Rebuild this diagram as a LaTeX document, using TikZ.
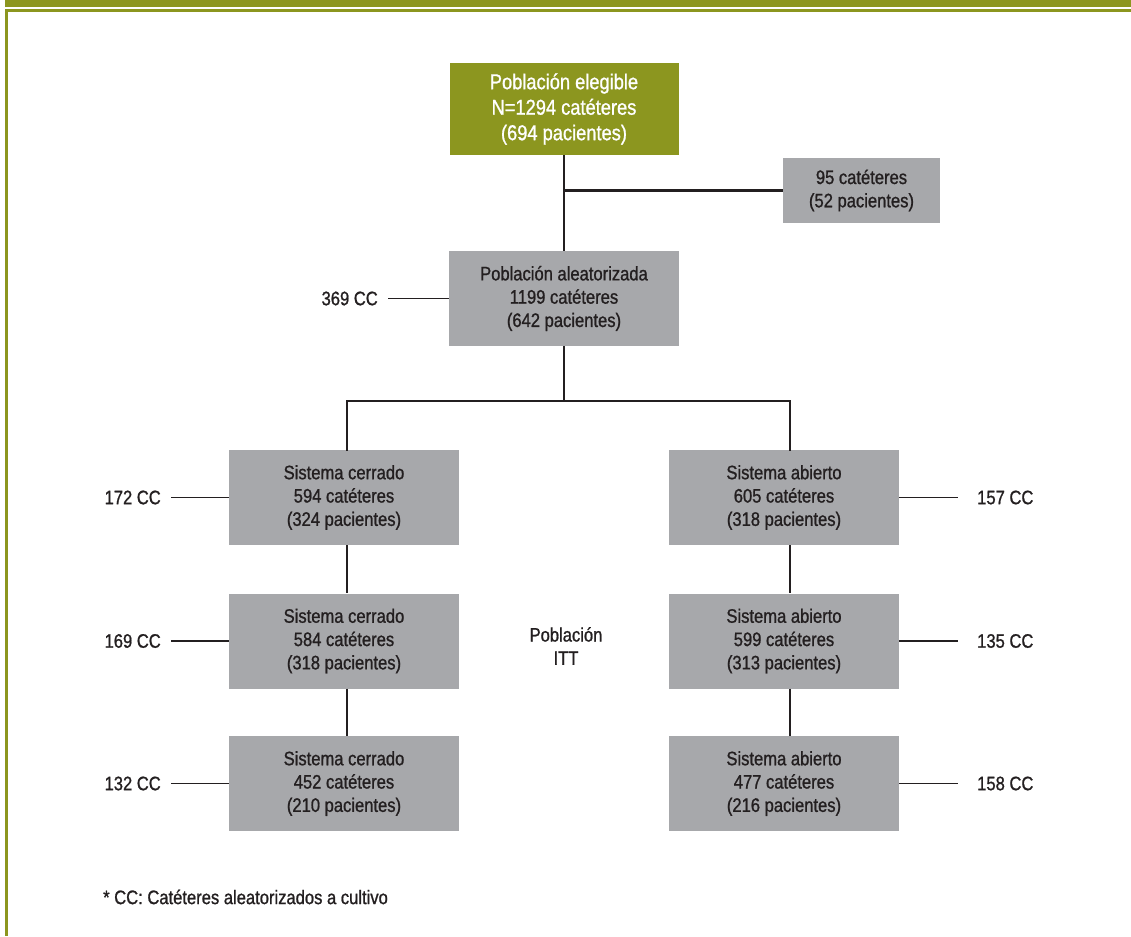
\documentclass[tikz,border=0pt]{standalone}
\usepackage{fontspec}
\setmainfont{Liberation Sans}[FakeStretch=0.85, FakeBold=1]
\definecolor{olive}{HTML}{8C961F}
\definecolor{boxgray}{HTML}{A7A8AB}
\definecolor{txt}{HTML}{231F20}
\begin{document}
\begin{tikzpicture}[x=1pt,y=-1pt,
  gbox/.style={fill=boxgray, text=txt, align=center, inner sep=0pt,
    minimum width=230pt, minimum height=95pt,
    font=\fontsize{19.5}{23.3}\selectfont},
  topbox/.style={gbox, fill=olive, text=white, minimum width=229pt, minimum height=92pt,
    font=\fontsize{21.5}{25.5}\selectfont},
  cclabel/.style={text=txt, inner sep=0pt, font=\fontsize{19.5}{23.3}\selectfont},
  tree/.style={draw=txt, line width=2.7pt},
  ccline/.style={draw=txt, line width=1.8pt}]
\useasboundingbox (0,0) rectangle (1131,936);
% border
\fill[olive] (5,0) rectangle (1131,7.3);
\fill[olive] (5,9) rectangle (1131,11.8);
\fill[olive] (5,9) rectangle (8.3,936);

% nodes
\node[topbox] (top) at (564,109) {Población elegible\\N=1294 catéteres\\(694 pacientes)};
\node[gbox, minimum width=157pt, minimum height=65pt] (excl) at (861.5,190.5) {95 catéteres\\(52 pacientes)};
\node[gbox] (rand) at (564,298.5) {Población aleatorizada\\1199 catéteres\\(642 pacientes)};

\node[gbox] (L1) at (344,497.5) {Sistema cerrado\\594 catéteres\\(324 pacientes)};
\node[gbox] (L2) at (344,641) {Sistema cerrado\\584 catéteres\\(318 pacientes)};
\node[gbox] (L3) at (344,783.5) {Sistema cerrado\\452 catéteres\\(210 pacientes)};
\node[gbox] (R1) at (784,497.5) {Sistema abierto\\605 catéteres\\(318 pacientes)};
\node[gbox] (R2) at (784,641) {Sistema abierto\\599 catéteres\\(313 pacientes)};
\node[gbox] (R3) at (784,783.5) {Sistema abierto\\477 catéteres\\(216 pacientes)};

\node[cclabel, align=center] (itt) at (566,646) {Población\\ITT};

% CC labels
\node[cclabel, anchor=east] (cc0) at (378,298.5) {369 CC};
\node[cclabel, anchor=east] (ccL1) at (161,497.5) {172 CC};
\node[cclabel, anchor=east] (ccL2) at (161,641) {169 CC};
\node[cclabel, anchor=east] (ccL3) at (161,783.5) {132 CC};
\node[cclabel, anchor=west] (ccR1) at (977,497.5) {157 CC};
\node[cclabel, anchor=west] (ccR2) at (977,641) {135 CC};
\node[cclabel, anchor=west] (ccR3) at (977,783.5) {158 CC};

\node[cclabel, anchor=west] (note) at (103,897) {* CC: Catéteres aleatorizados a cultivo};

% tree connectors
\coordinate (j) at (564,190.5);
\coordinate (bl) at (347,401);
\coordinate (br) at (790,401);
\draw[tree] (top.south) -- (rand.north);
\draw[draw=txt, line width=2.4pt] (j) -- (excl.west);
\draw[tree] (rand.south) -- (rand.south |- bl);
\draw[tree, line cap=rect] (bl |- L1.north) -- (bl) -- (br) -- (br |- R1.north);
\draw[tree] (L1.south -| bl) -- (L2.north -| bl);
\draw[tree] (L2.south -| bl) -- (L3.north -| bl);
\draw[tree] (R1.south -| br) -- (R2.north -| br);
\draw[tree] (R2.south -| br) -- (R3.north -| br);

% CC lines
\draw[ccline] ([xshift=10pt]cc0.east) -- (rand.west);
\draw[ccline] ([xshift=10pt]ccL1.east) -- (L1.west);
\draw[ccline] ([xshift=10pt]ccL2.east) -- (L2.west);
\draw[ccline] ([xshift=10pt]ccL3.east) -- (L3.west);
\draw[ccline] (R1.east) -- ([xshift=-19pt]ccR1.west);
\draw[ccline] (R2.east) -- ([xshift=-19pt]ccR2.west);
\draw[ccline] (R3.east) -- ([xshift=-19pt]ccR3.west);
\end{tikzpicture}
\end{document}
